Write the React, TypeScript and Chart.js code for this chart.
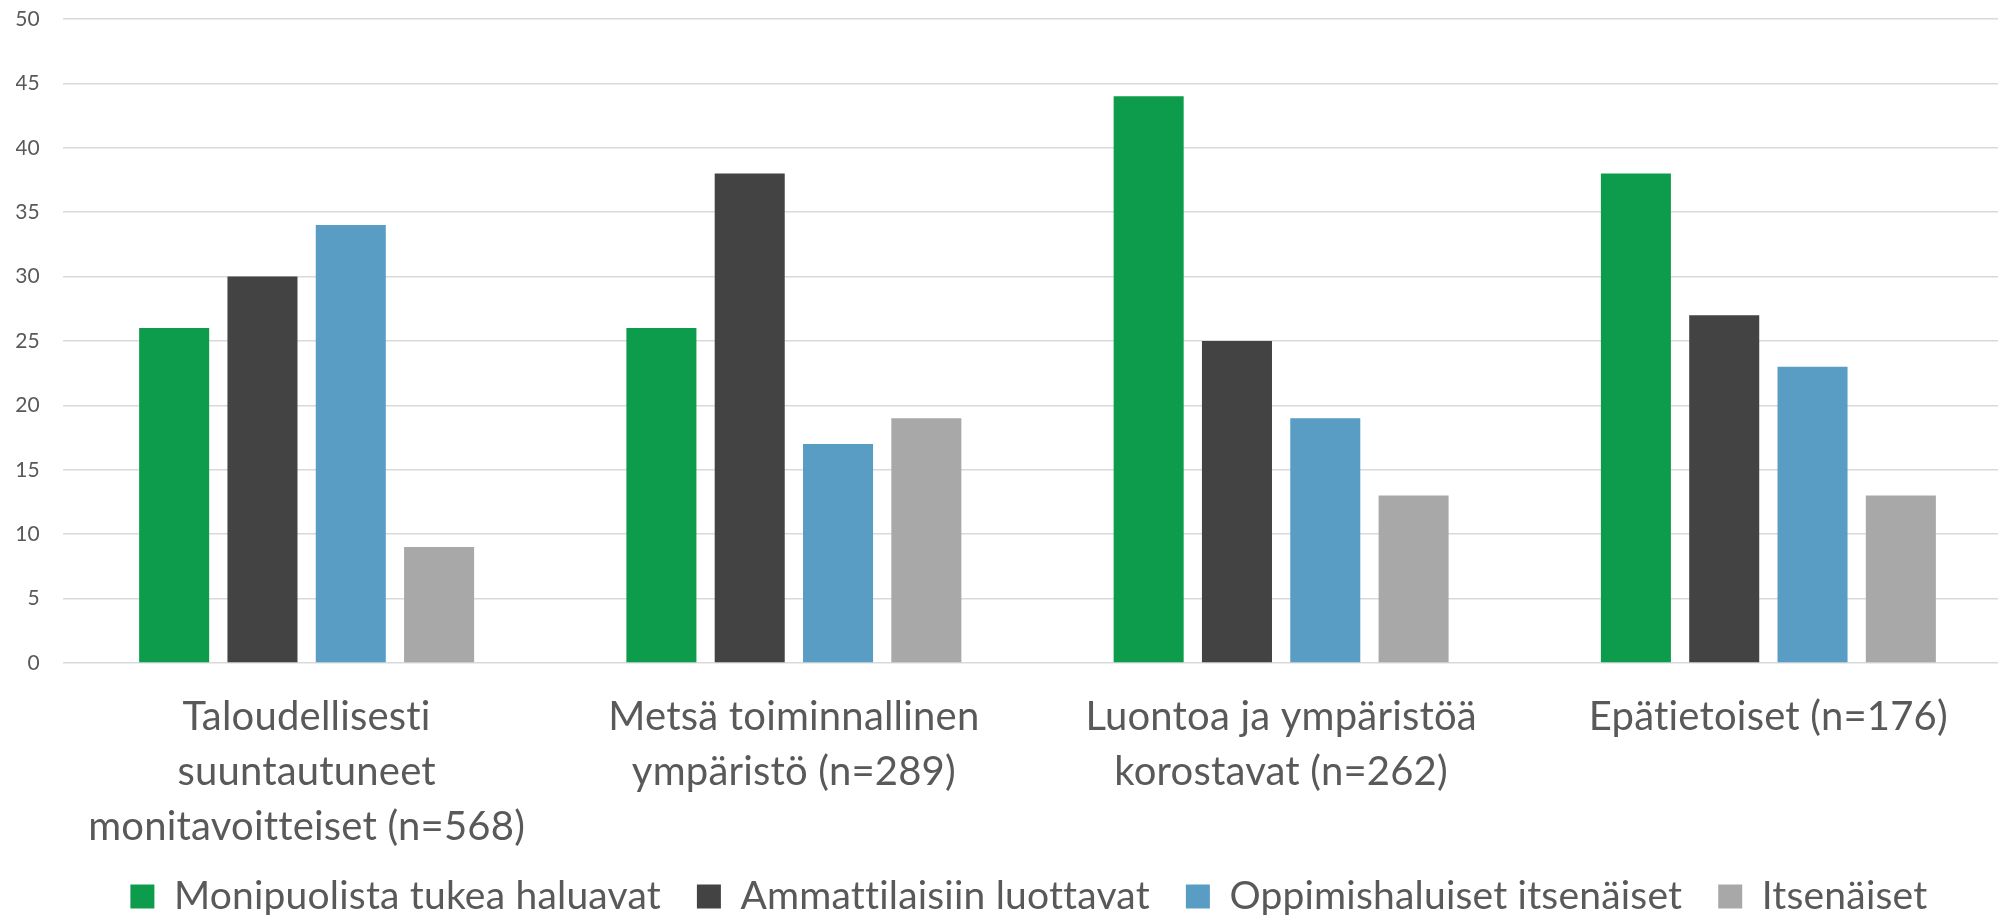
import React, { useEffect, useRef } from "react";
import { Chart, registerables } from "chart.js";

Chart.register(...registerables);

const categories: string[][] = [
  ["Taloudellisesti", "suuntautuneet", "monitavoitteiset (n=568)"],
  ["Metsä toiminnallinen", "ympäristö (n=289)"],
  ["Luontoa ja ympäristöä", "korostavat (n=262)"],
  ["Epätietoiset (n=176)"],
];

const seriesNames = [
  "Monipuolista tukea haluavat",
  "Ammattilaisiin luottavat",
  "Oppimishaluiset itsenäiset",
  "Itsenäiset",
];

const monipuolista = [26, 26, 44, 38];
const ammattilaisiin = [30, 38, 25, 27];
const oppimishaluiset = [34, 17, 19, 23];
const itsenaiset = [9, 19, 13, 13];

const colors = ["#0c9c4b", "#434343", "#5a9dc4", "#a8a8a8"];

const noLigatures = (ctx: any) => {
  try {
    ctx.textRendering = "optimizeSpeed";
    ctx.letterSpacing = "0.2px";
  } catch (e) {}
};

const layoutTweaks = {
  id: "layoutTweaks",
  beforeInit(chart: any) {
    noLigatures(chart.ctx);
  },
  beforeDraw(chart: any) {
    noLigatures(chart.ctx);
  },
  afterLayout(chart: any) {
    const lg = chart.legend;
    if (lg) {
      lg.left += 12;
      lg.right += 12;
    }
    const x = chart.scales.x;
    if (x) {
      x.bottom += 60;
      x.right += 14;
      x.width += 14;
      x.configure();
    }
  },
};

export default function App() {
  const ref = useRef<HTMLCanvasElement | null>(null);

  useEffect(() => {
    document.body.style.margin = "0";
    if (!ref.current) return;
    const values = [monipuolista, ammattilaisiin, oppimishaluiset, itsenaiset];
    const chart = new Chart(ref.current, {
      type: "bar",
      data: {
        labels: categories,
        datasets: values.map((v, i) => ({
          label: seriesNames[i],
          data: v,
          backgroundColor: colors[i],
          borderWidth: 0,
          categoryPercentage: 0.725,
          barPercentage: 0.793,
        })),
      },
      plugins: [layoutTweaks],
      options: {
        animation: false,
        responsive: false,
        maintainAspectRatio: false,
        layout: { padding: { top: 19, left: 16, right: 0, bottom: -11 } },
        plugins: {
          tooltip: { enabled: false },
          legend: {
            position: "bottom",
            labels: {
              color: "#595959",
              font: { family: "Lato", size: 39 },
              boxWidth: 24,
              boxHeight: 24,
              padding: 36,
            },
          },
        },
        scales: {
          x: {
            grid: { display: false, drawTicks: false },
            border: { display: false },
            ticks: {
              color: "#595959",
              font: { family: "Lato", size: 40, lineHeight: 1.375 },
              padding: 27,
              maxRotation: 0,
              autoSkip: false,
            },
            afterFit: (scale: any) => {
              scale.height = 178;
              scale.paddingLeft = 0;
              scale.paddingRight = 0;
            },
          },
          y: {
            min: 0,
            max: 50,
            grid: { color: "#d9d9d9", lineWidth: 1.5, drawTicks: false },
            border: { display: false },
            ticks: {
              stepSize: 5,
              color: "#595959",
              font: { family: "Lato", size: 21 },
              padding: 23,
            },
            afterFit: (scale: any) => {
              scale.width = 47;
              scale.paddingTop = 0;
              scale.paddingBottom = 0;
            },
          },
        },
      },
    });
    return () => chart.destroy();
  }, []);

  return (
    <div style={{ width: 1998, height: 915 }}>
      <canvas ref={ref} width={1998} height={915} style={{ display: "block" }} />
    </div>
  );
}
